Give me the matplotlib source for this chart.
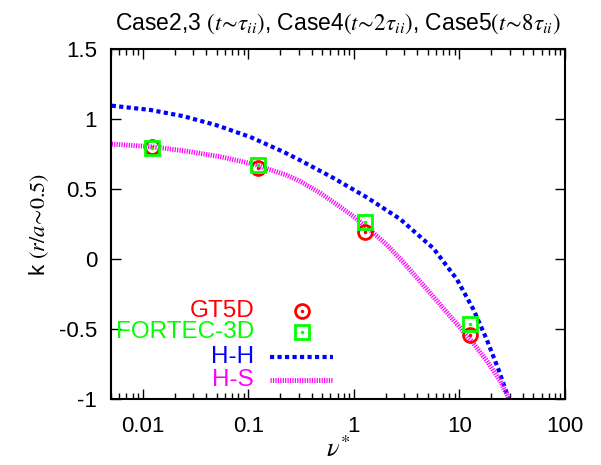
import numpy as np
import matplotlib
matplotlib.use('Agg')
import matplotlib.pyplot as plt

plt.rcParams['font.family'] = ['Liberation Sans', 'DejaVu Sans']
plt.rcParams['mathtext.fontset'] = 'stix'

# simulation results
nu_sim = [0.0122, 0.124, 1.27, 12.7]
k_gt5d = [0.798, 0.652, 0.195, -0.543]
k_fortec = [0.79, 0.671, 0.266, -0.464]

# theory curves
nu_hh = [0.00508, 0.01172, 0.02427, 0.0502, 0.104, 0.2153, 0.310, 0.641,
         1.327, 2.746, 5.68, 9.46, 13.6, 18.2, 23.5, 29.2]
k_hh = [1.095, 1.065, 1.020, 0.955, 0.872, 0.765, 0.705, 0.578,
        0.440, 0.285, 0.075, -0.145, -0.362, -0.578, -0.792, -0.995]

nu_hs = [0.00508, 0.0126, 0.0261, 0.054, 0.1117, 0.2317, 0.310, 0.479,
         0.741, 1.028, 1.48, 2.06, 2.95, 4.25, 6.12, 8.80, 12.6, 18.2,
         24.4, 29.2]
k_hs = [0.821, 0.801, 0.770, 0.731, 0.678, 0.598, 0.555, 0.472,
        0.373, 0.295, 0.195, 0.100, -0.024, -0.161, -0.299, -0.437, -0.572, -0.728,
        -0.872, -0.995]

xticks = [0.01, 0.1, 1, 10, 100]
xticklabels = ['0.01', '0.1', '1', '10', '100']
yticks = [-1, -0.5, 0, 0.5, 1, 1.5]
yticklabels = ['-1', '-0.5', '0', '0.5', '1', '1.5']

red = '#ff0000'
green = '#00ff00'
blue = '#0000ff'
magenta = '#ff00ff'

fig = plt.figure(figsize=(6.01, 4.65), dpi=100)
ax = fig.add_axes([111 / 601, 1 - 399 / 465, 454 / 601, 350 / 465])

ax.plot(nu_hh, k_hh, color=blue, lw=3, dashes=(1.0, 0.8))
ax.plot(nu_hs, k_hs, color=magenta, lw=3.5, dashes=(0.25, 0.25))

ax.plot(nu_sim, k_gt5d, 'o', ms=10, mfc='none', mec=red, mew=2)
ax.plot(nu_sim, k_gt5d, '.', ms=3, color=red)
ax.plot(nu_sim, k_fortec, 's', ms=10, mfc='none', mec=green, mew=2)
ax.plot(nu_sim, k_fortec, '.', ms=3, color=green)

ax.set_xscale('log')
ax.set_xlim(0.005, 100)
ax.set_ylim(-1, 1.5)
ax.set_xticks(xticks)
ax.set_xticklabels(xticklabels)
ax.set_yticks(yticks)
ax.set_yticklabels(yticklabels)
ax.tick_params(which='both', direction='in', top=True, right=True, labelsize=16)
ax.tick_params(which='major', length=7, width=1)
ax.tick_params(which='minor', length=4, width=1)
ax.tick_params(axis='x', pad=12)
ax.tick_params(axis='y', pad=10)
for s in ax.spines.values():
    s.set_linewidth(1.5)

ax.set_xlabel(r'$\nu^{*}$', fontsize=19, labelpad=0)
ax.set_ylabel(r'k $(r/a\!\sim\!0.5)$', fontsize=16, labelpad=6)
ax.set_title(r'Case2,3 $(t\!\sim\!\tau_{ii})$, Case4$(t\!\sim\!2\tau_{ii})$, '
             r'Case5$(t\!\sim\!8\tau_{ii})$', fontsize=16.5, pad=14)

# gnuplot style key
tr = ax.transAxes
ax.text(0.315, 0.252, 'GT5D', color=red, fontsize=17.5, ha='right', va='center', transform=tr)
ax.plot([0.420], [0.252], 'o', ms=10, mfc='none', mec=red, mew=2, transform=tr)
ax.plot([0.420], [0.252], '.', ms=3, color=red, transform=tr)
ax.text(0.315, 0.191, 'FORTEC-3D', color=green, fontsize=17.5, ha='right', va='center', transform=tr)
ax.plot([0.420], [0.191], 's', ms=10, mfc='none', mec=green, mew=2, transform=tr)
ax.plot([0.420], [0.191], '.', ms=3, color=green, transform=tr)
ax.text(0.315, 0.119, 'H-H', color=blue, fontsize=17.5, ha='right', va='center', transform=tr)
ax.plot([0.350, 0.489], [0.119, 0.119], color=blue, lw=3, dashes=(1.0, 0.8), transform=tr)
ax.text(0.315, 0.054, 'H-S', color=magenta, fontsize=17.5, ha='right', va='center', transform=tr)
ax.plot([0.350, 0.489], [0.054, 0.054], color=magenta, lw=3.5, dashes=(0.25, 0.25), transform=tr)

fig.savefig('out.png', dpi=100)
